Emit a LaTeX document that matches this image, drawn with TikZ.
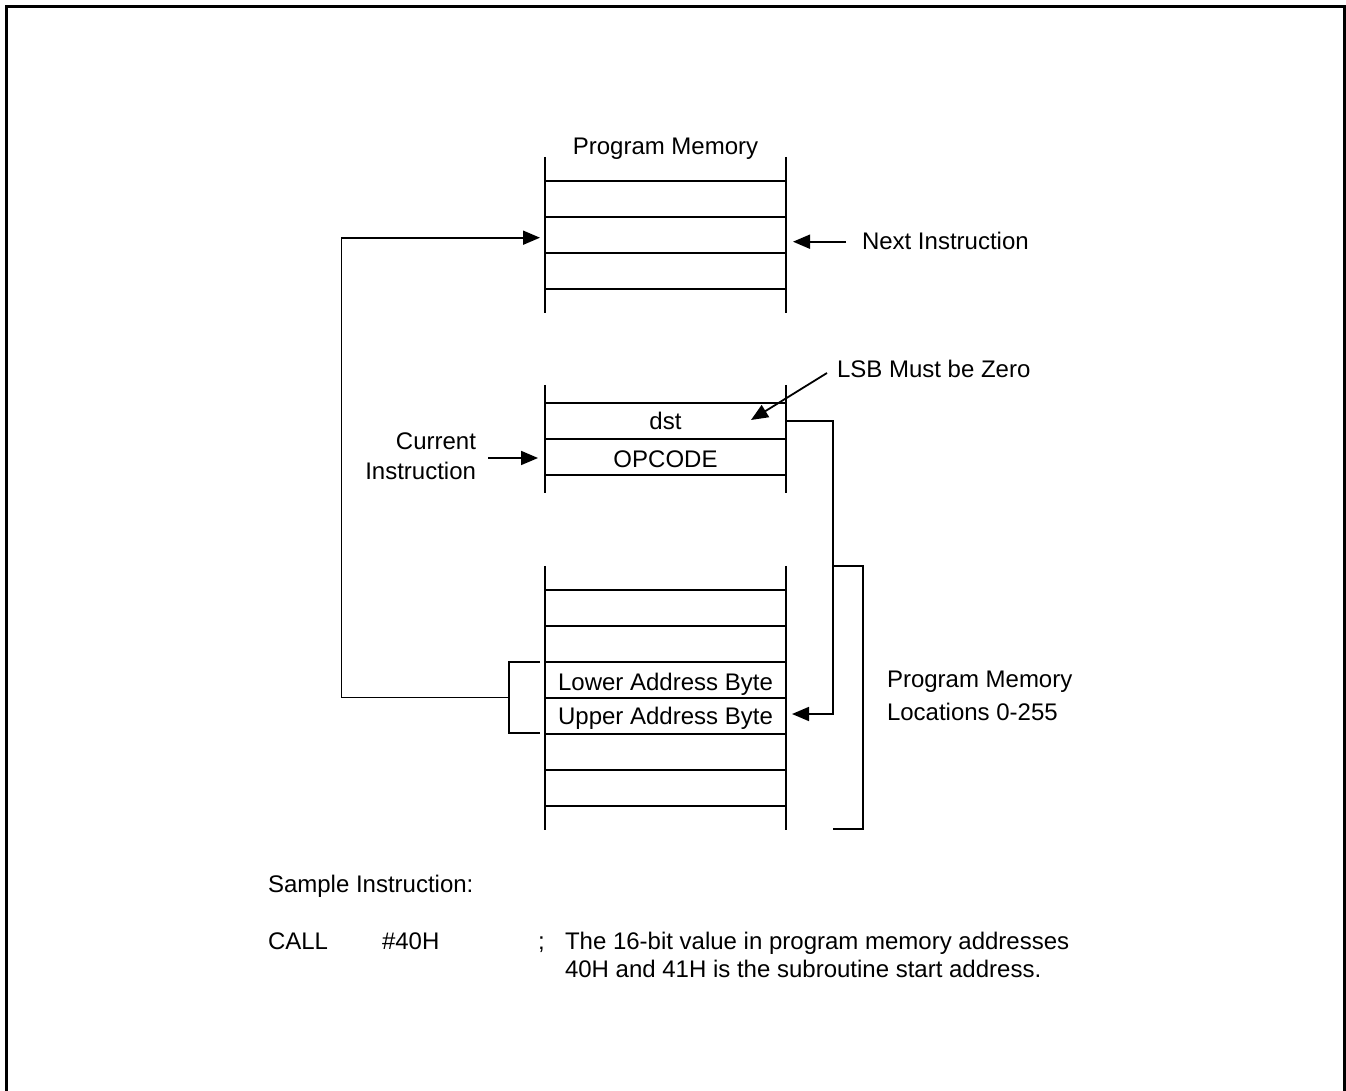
\documentclass[tikz,border=0pt]{standalone}
\usepackage{fontspec}
\setmainfont{Liberation Sans}
\usetikzlibrary{arrows.meta}
\begin{document}
\begin{tikzpicture}[x=0.5pt,y=-0.5pt,
  lbl/.style={font=\fontsize{12}{14}\selectfont, inner sep=0pt, outer sep=0pt},
  memline/.style={line width=0.9pt, line cap=butt},
  conn/.style={line width=0.9pt},
  arr/.style={line width=0.9pt, -{Triangle[length=8.5pt,width=7pt]}},
  framel/.style={line width=1.5pt}]
\useasboundingbox (0,0) rectangle (1346,1091);
% outer frame
\draw[framel] (6.5,1091) -- (6.5,6.5) -- (1344.5,6.5) -- (1344.5,1091);

% ---------- top memory block ----------
\draw[memline] (545,157) -- (545,313) (786,157) -- (786,313);
\foreach \y in {181,217,253,289} \draw[memline] (545,\y) -- (786,\y);
\node[lbl, anchor=base] (pm) at (665.5,155) {Program Memory};

% ---------- middle block ----------
\draw[memline] (545,385) -- (545,493) (786,385) -- (786,493);
\foreach \y in {403,439,475} \draw[memline] (545,\y) -- (786,\y);
\node[lbl, anchor=base] (dst) at (665.5,430) {dst};
\node[lbl, anchor=base] (opc) at (665.5,468) {OPCODE};

% ---------- bottom block ----------
\draw[memline] (545,566) -- (545,830) (786,566) -- (786,830);
\foreach \y in {590,626,662,698,734,770,806} \draw[memline] (545,\y) -- (786,\y);
\node[lbl, anchor=base] (lower) at (665.5,690) {Lower Address Byte};
\node[lbl, anchor=base] (upper) at (665.5,725) {Upper Address Byte};

% ---------- side labels ----------
\node[lbl, anchor=base west] (next) at (862,250) {Next Instruction};
\node[lbl, anchor=base west] (lsb) at (837,378) {LSB Must be Zero};
\node[lbl, anchor=base east] (cur1) at (476,450) {Current};
\node[lbl, anchor=base east] (cur2) at (476,480) {Instruction};
\node[lbl, anchor=base west] (pml1) at (887,688) {Program Memory};
\node[lbl, anchor=base west] (pml2) at (887,720) {Locations 0-255};

% ---------- coordinates for connectors ----------
\coordinate (nextS) at (846,241.7);
\coordinate (nextT) at (793,241.7);
\coordinate (lsbS) at (827,373);
\coordinate (lsbT) at (751,420);
\coordinate (curS) at (488,458);
\coordinate (curT) at (538,458);
\coordinate (loopT) at (540,237.7);
\coordinate (brL) at (509,697.5);
\coordinate (dstS) at (786,421);
\coordinate (updT) at (792,714);
\coordinate (rbT) at (833,566);
\coordinate (rbB) at (833,829);

% ---------- connectors ----------
\draw[arr] (nextS) -- (nextT);
\draw[arr] (lsbS) -- (lsbT);
\draw[arr] (curS) -- (curT);
% bracket around lower/upper address bytes
\draw[conn] (540,662) -- (509,662) -- (509,733) -- (540,733);
\draw[arr] (brL) -- (341.5,697.5) -- (341.5,237.7) -- (loopT);
% dst to upper address byte
\draw[arr] (dstS) -- (833,421) -- (833,714) -- (updT);
% right bracket
\draw[conn] (rbT) -- (863,566) -- (863,829) -- (rbB);

% ---------- sample instruction ----------
\node[lbl, anchor=base west] (sample) at (268,892) {Sample Instruction:};
\node[lbl, anchor=base west] (call) at (268,949) {CALL};
\node[lbl, anchor=base west] (num) at (382,949) {\#40H};
\node[lbl, anchor=base west] (semi) at (538,949) {;};
\node[lbl, anchor=base west] (c1) at (565,949) {The 16-bit value in program memory addresses};
\node[lbl, anchor=base west] (c2) at (565,977) {40H and 41H is the subroutine start address.};
\end{tikzpicture}
\end{document}
